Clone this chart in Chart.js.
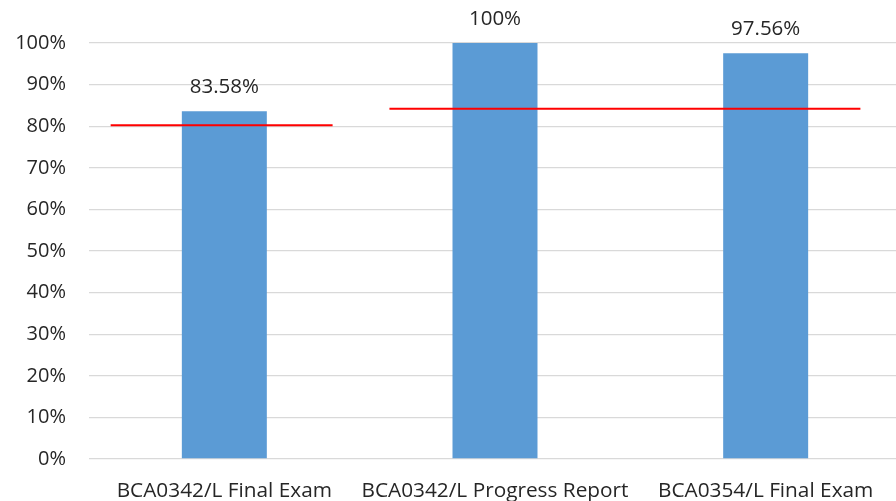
<!DOCTYPE html>
<html>
<head>
<meta charset="utf-8">
<script src="https://cdn.jsdelivr.net/npm/chart.js@4"></script>
<style>
  html, body { margin: 0; padding: 0; background: #fff; overflow: hidden; }
  canvas { display: block; }
</style>
</head>
<body>
<canvas id="chart" width="901" height="501"></canvas>
<script>
// data
const categories = ["BCA0342/L Final Exam", "BCA0342/L Progress Report", "BCA0354/L Final Exam"];
const scores = [83.58, 100, 97.56];
const yTicks = [0, 10, 20, 30, 40, 50, 60, 70, 80, 90, 100];

// red target lines, x in category units (0 = first category centre)
const targetValues = [80.2, 84.2];
const targetFrom = [-0.42, 0.61];
const targetTo = [0.40, 2.35];

const FONT = "'Open Sans', sans-serif";

// build line points, with a gap between segments
const targetPoints = [];
targetValues.forEach((v, i) => {
    if (i > 0) targetPoints.push({ x: (targetTo[i - 1] + targetFrom[i]) / 2, y: null });
    targetPoints.push({ x: targetFrom[i], y: v });
    targetPoints.push({ x: targetTo[i], y: v });
});

const valueLabels = {
    id: "valueLabels",
    afterDatasetsDraw(chart) {
        const ctx = chart.ctx;
        const meta = chart.getDatasetMeta(0);
        ctx.save();
        ctx.font = "20.5px " + FONT;
        ctx.fillStyle = "#262626";
        ctx.textAlign = "center";
        ctx.textBaseline = "bottom";
        meta.data.forEach((bar, i) => {
            ctx.fillText(scores[i] + "%", bar.x, bar.y - 14);
        });
        ctx.restore();
    }
};

new Chart(document.getElementById("chart").getContext("2d"), {
    data: {
        labels: categories,
        datasets: [
            {
                type: "bar",
                data: scores,
                backgroundColor: "#5B9BD5",
                barPercentage: 0.314,
                categoryPercentage: 1,
                grouped: false,
                order: 1
            },
            {
                type: "line",
                data: targetPoints,
                xAxisID: "x2",
                borderColor: "#FF0000",
                borderWidth: 2,
                pointRadius: 0,
                spanGaps: false,
                order: 0
            }
        ]
    },
    options: {
        responsive: false,
        animation: false,
        layout: { padding: { top: 43, right: 0, bottom: 0, left: 0 } },
        plugins: { legend: { display: false }, tooltip: { enabled: false } },
        scales: {
            x: {
                type: "category",
                grid: { display: false },
                border: { display: false },
                ticks: { color: "#262626", font: { family: FONT, size: 20.8 }, padding: 12, maxRotation: 0, autoSkip: false },
                afterFit(s) { s.height = 42; }
            },
            x2: {
                type: "linear",
                display: false,
                min: -0.5,
                max: 2.5
            },
            y: {
                min: 0,
                max: 100,
                afterBuildTicks(s) { s.ticks = yTicks.map(v => ({ value: v })); },
                grid: { color: "#D9D9D9", lineWidth: 1.3, drawTicks: false },
                border: { display: false },
                ticks: {
                    color: "#262626",
                    font: { family: FONT, size: 20 },
                    padding: 23,
                    callback: v => v + "%"
                },
                afterFit(s) { s.width = 89; }
            }
        }
    },
    plugins: [valueLabels]
});
</script>
</body>
</html>
